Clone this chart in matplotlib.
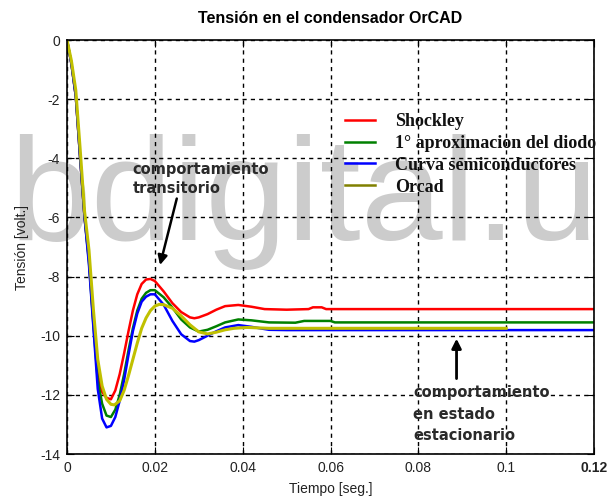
import numpy as np
import matplotlib
matplotlib.use("Agg")
from matplotlib import pyplot as plt
from matplotlib.lines import Line2D

# tiempos en ms
t_shockley = [0, 1, 2, 3, 4, 5, 6, 7, 8, 9, 10, 11, 12, 13, 14, 15, 16, 17, 18, 19,
              20, 22, 24, 26, 28, 29, 30, 32, 34, 36, 39, 42, 45, 50, 55, 56, 58, 59, 120]
v_shockley = [0, -0.8, -1.9, -4.0, -6.0, -7.4, -9.5, -11.3, -11.9, -12.1, -12.15, -11.85, -11.3,
              -10.6, -9.85, -9.15, -8.6, -8.25, -8.1, -8.08,
              -8.15, -8.5, -8.9, -9.2, -9.38, -9.41, -9.38, -9.27, -9.12, -9.0, -8.96, -9.02,
              -9.1, -9.12, -9.1, -9.04, -9.04, -9.1, -9.1]

t_aprox = [0, 1, 2, 3, 4, 5, 6, 7, 8, 9, 10, 11, 12, 13, 14, 15, 16, 17, 18, 19,
           20, 22, 24, 26, 28, 30, 32, 34, 36, 39, 42, 46, 52, 54, 60, 61, 120]
v_aprox = [0, -0.8, -1.9, -4.0, -6.0, -7.5, -9.6, -11.5, -12.3, -12.7, -12.75, -12.5, -12.0,
           -11.3, -10.5, -9.75, -9.15, -8.75, -8.55, -8.46,
           -8.46, -8.7, -9.05, -9.45, -9.72, -9.86, -9.8, -9.68, -9.55, -9.45, -9.48,
           -9.55, -9.56, -9.5, -9.5, -9.55, -9.55]

t_curva = [0, 1, 2, 3, 4, 5, 6, 7, 8, 9, 10, 11, 12, 13, 14, 15, 16, 17, 18, 19,
           20, 22, 24, 26, 28, 29, 30, 32, 34, 36, 39, 42, 46, 50, 120]
v_curva = [0, -0.8, -1.9, -4.0, -6.0, -7.6, -9.7, -11.8, -12.8, -13.1, -13.05, -12.75, -12.2,
           -11.5, -10.65, -9.85, -9.25, -8.85, -8.68, -8.6,
           -8.6, -8.95, -9.5, -9.95, -10.18, -10.2, -10.15, -10.0, -9.85, -9.72, -9.64,
           -9.7, -9.8, -9.81, -9.81]

t_orcad = [0, 1, 2, 3, 4, 5, 6, 7, 8, 9, 10, 10.8, 12, 13, 14, 15, 16, 17, 18, 19,
           20, 21, 22, 24, 26, 28, 30, 32, 34, 36, 38, 41, 46, 55, 100]
v_orcad = [0, -0.7, -1.7, -3.7, -5.8, -7.1, -9.1, -10.8, -11.7, -12.15, -12.32, -12.34, -12.2,
           -11.85, -11.35, -10.8, -10.25, -9.75, -9.4, -9.15,
           -9.0, -8.94, -8.95, -9.07, -9.33, -9.63, -9.87, -9.94, -9.88, -9.8, -9.75,
           -9.72, -9.75, -9.75, -9.75]

labels = ["Shockley", "1° aproximacion del diodo", "Curva semiconductores", "Orcad"]
colores = ["#ff0000", "#008000", "#0000ff", "#c0c000"]
colores_leyenda = ["#ff0000", "#008000", "#0000ff", "#808000"]

xticks = [0, 0.02, 0.04, 0.06, 0.08, 0.1, 0.12]
xticklabels = ["0", "0.02", "0.04", "0.06", "0.08", "0.1", "0.12"]
yticks = [0, -2, -4, -6, -8, -10, -12, -14]
yticklabels = ["0", "-2", "-4", "-6", "-8", "-10", "-12", "-14"]

plt.rcParams['font.family'] = ['Liberation Sans', 'DejaVu Sans']

fig = plt.figure(figsize=(6.12, 4.98), dpi=100)
ax = fig.add_axes([67 / 612, 1 - 454 / 498, 527 / 612, 414 / 498])
ax.patch.set_alpha(0)
ax.set_zorder(2)

# marca de agua
fig.text(10 / 612, 1 - 240 / 498, "bdigital.u", fontsize=106, color="#cccccc",
         family="Liberation Sans", ha="left", va="baseline", zorder=1)

series = [(t_shockley, v_shockley), (t_aprox, v_aprox), (t_curva, v_curva), (t_orcad, v_orcad)]
anchos = [1.8, 1.8, 1.8, 2.2]
for (t, v), c, lab, lw in zip(series, colores, labels, anchos):
    ax.plot(np.array(t) / 1000.0, v, color=c, lw=lw, label=lab)

ax.set_xlim(0, 0.12)
ax.set_ylim(-14, 0)
ax.set_xticks(xticks)
ax.set_xticklabels(xticklabels)
ax.set_yticks(yticks)
ax.set_yticklabels(yticklabels)
ax.get_xticklabels()[-1].set_fontweight("bold")
ax.get_xticklabels()[-1].set_color("black")
ax.tick_params(direction="in", length=5, top=True, right=True, labelsize=10,
               labelcolor="#222222", pad=5)
ax.grid(True, color="black", linestyle=(0, (3, 3)), linewidth=1)
for s in ax.spines.values():
    s.set_linewidth(1.2)

ax.set_title("Tensión en el condensador OrCAD", fontsize=11.5, fontweight="bold", pad=12)
ax.set_xlabel("Tiempo [seg.]", fontsize=10, color="#222222", labelpad=5)
ax.set_ylabel("Tensión [volt.]", fontsize=10, color="#222222", labelpad=8)

handles = [Line2D([], [], color=c, lw=1.8) for c in colores_leyenda]
leg = ax.legend(handles, labels, loc="upper left", bbox_to_anchor=(345 / 612, 1 - 113 / 498),
                bbox_transform=fig.transFigure, frameon=False, borderpad=0, borderaxespad=0,
                handlelength=1.65, handletextpad=1.1, labelspacing=0.27,
                prop={"family": "Liberation Serif", "weight": "bold", "size": 13})
for txt in leg.get_texts():
    txt.set_color("#111111")

ax.annotate("comportamiento\ntransitorio", xy=(0.02118, -7.61), xytext=(0.0149, -4.7),
            fontsize=10.5, fontweight="bold", family="DejaVu Sans", color="#2a2a2a",
            ha="left", va="center", linespacing=1.3,
            arrowprops=dict(arrowstyle="-|>", color="black", lw=1.8, mutation_scale=14,
                            shrinkA=0, shrinkB=0, relpos=(0.33, 0)))
ax.annotate("", xy=(0.0887, -10.1), xytext=(0.0887, -11.45),
            arrowprops=dict(arrowstyle="-|>", color="black", lw=2, mutation_scale=14,
                            shrinkA=0, shrinkB=0))
ax.text(0.0788, -12.65, "comportamiento\nen estado\nestacionario", fontsize=10.5,
        fontweight="bold", family="DejaVu Sans", color="#2a2a2a", ha="left", va="center",
        linespacing=1.55)

fig.savefig("out.png", dpi=100)
